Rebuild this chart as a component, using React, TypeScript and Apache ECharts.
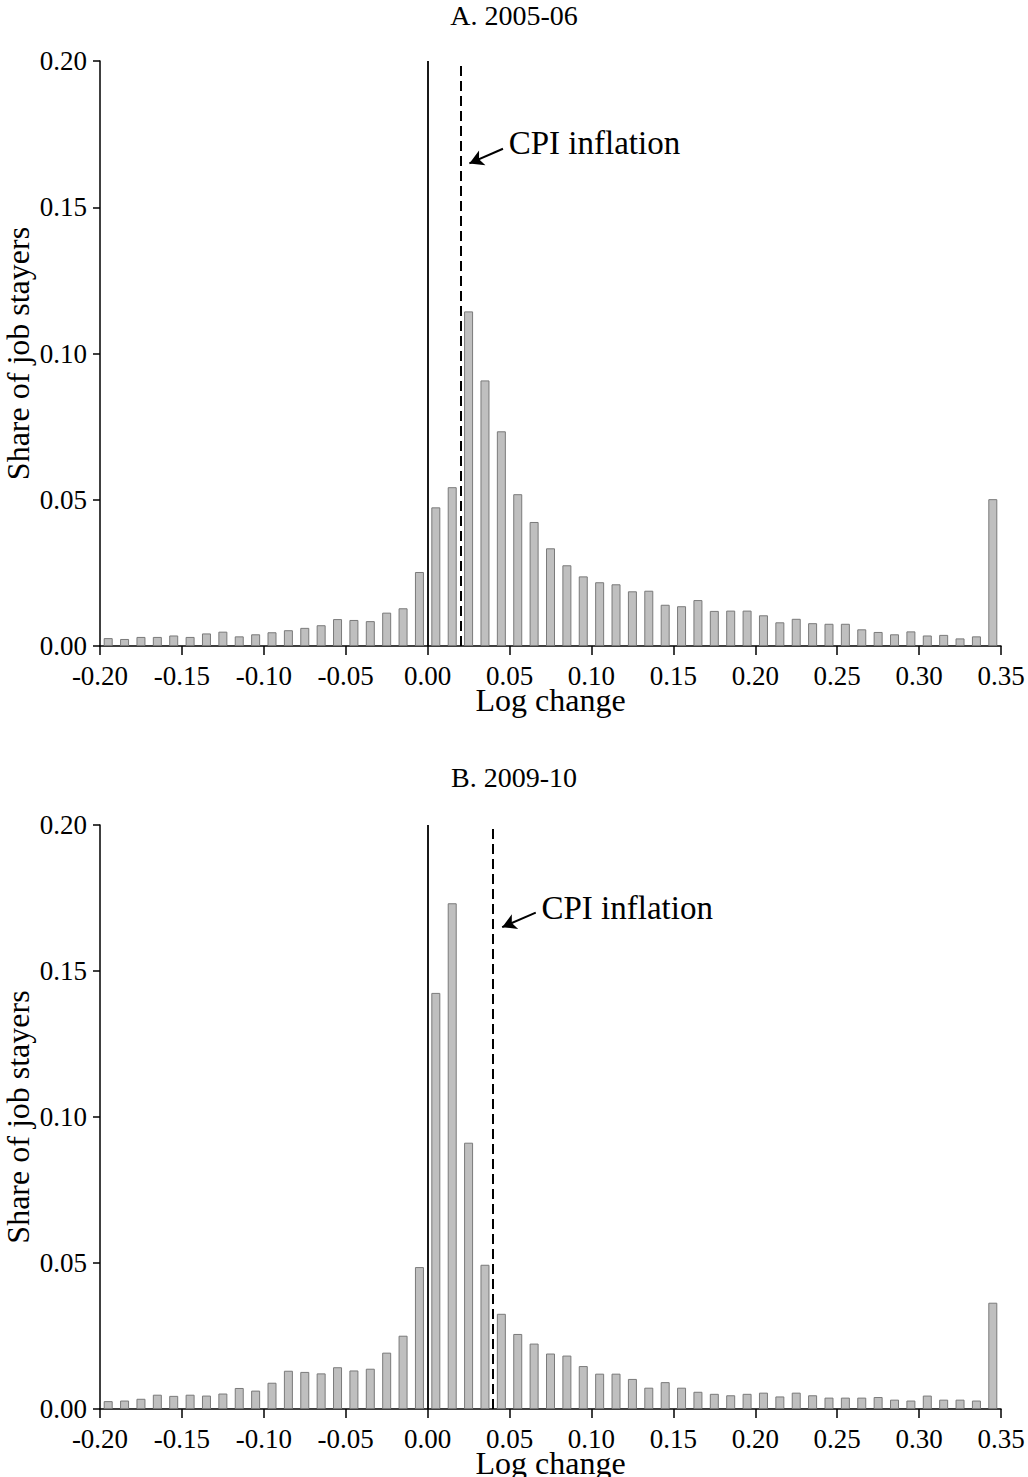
import React, { useEffect, useRef } from "react";
import * as echarts from "echarts";

// Bin centres (log change), 0.01-wide bins
const binCenters = [
  -0.195, -0.185, -0.175, -0.165, -0.155, -0.145, -0.135, -0.125, -0.115, -0.105,
  -0.095, -0.085, -0.075, -0.065, -0.055, -0.045, -0.035, -0.025, -0.015, -0.005,
  0.005, 0.015, 0.025, 0.035, 0.045, 0.055, 0.065, 0.075, 0.085, 0.095,
  0.105, 0.115, 0.125, 0.135, 0.145, 0.155, 0.165, 0.175, 0.185, 0.195,
  0.205, 0.215, 0.225, 0.235, 0.245, 0.255, 0.265, 0.275, 0.285, 0.295,
  0.305, 0.315, 0.325, 0.335, 0.345,
];

// Panel A: 2005-06 share of job stayers
const shareA = [
  0.0027, 0.0024, 0.0031, 0.0031, 0.0036, 0.0031, 0.0043, 0.0049, 0.0033, 0.004,
  0.0047, 0.0054, 0.0062, 0.0071, 0.0092, 0.0089, 0.0085, 0.0114, 0.0129, 0.0253,
  0.0474, 0.0543, 0.1144, 0.0908, 0.0734, 0.0519, 0.0424, 0.0334, 0.0276, 0.0238,
  0.0218, 0.0211, 0.0187, 0.0189, 0.0141, 0.0136, 0.0157, 0.012, 0.0121, 0.0121,
  0.0105, 0.0081, 0.0093, 0.0078, 0.0076, 0.0076, 0.0057, 0.0048, 0.004, 0.005,
  0.0036, 0.0038, 0.0026, 0.0033, 0.0502,
];

// Panel B: 2009-10 share of job stayers
const shareB = [
  0.0027, 0.0029, 0.0035, 0.0049, 0.0045, 0.0049, 0.0046, 0.0053, 0.0072, 0.0063,
  0.009, 0.0131, 0.0127, 0.0122, 0.0143, 0.0132, 0.0138, 0.0193, 0.0251, 0.0486,
  0.1425, 0.1732, 0.0912, 0.0494, 0.0326, 0.0257, 0.0224, 0.019, 0.0183, 0.0147,
  0.0121, 0.0121, 0.0103, 0.0073, 0.0092, 0.0073, 0.0059, 0.0052, 0.0047, 0.0052,
  0.0056, 0.0043, 0.0056, 0.0047, 0.0039, 0.0039, 0.0039, 0.0041, 0.0032, 0.0029,
  0.0046, 0.0032, 0.0032, 0.0029, 0.0364,
];

const panelTitles = ["A. 2005-06", "B. 2009-10"];
const cpiInflation = [0.02, 0.04];
const annotationText = "CPI inflation";
// arrow tail / tip and text anchor, in data coordinates
const arrowTail = [
  [0.046, 0.17],
  [0.066, 0.17],
];
const arrowTip = [
  [0.0255, 0.165],
  [0.0455, 0.165],
];
const textAnchor = [
  [0.0495, 0.172],
  [0.0695, 0.1715],
];

const xMin = -0.2;
const xMax = 0.35;
const xStep = 0.05;
const yMin = 0;
const yMax = 0.2;
const yStep = 0.05;

const FONT = "'Liberation Serif', 'Times New Roman', serif";

export default function App() {
  const ref = useRef<HTMLDivElement>(null);

  useEffect(() => {
    if (!ref.current) return;
    const chart = echarts.init(ref.current, undefined, { renderer: "svg" });

    const grids = [
      { left: 100, right: 27, top: 61, height: 585, outerBoundsMode: "none", containLabel: false },
      { left: 100, right: 27, top: 825, height: 584, outerBoundsMode: "none", containLabel: false },
    ];
    const titleTops = [-4, 758];

    const axisLineStyle = { color: "#000", width: 1.5 };

    const xAxes = grids.map((_, i) => ({
      type: "value",
      gridIndex: i,
      min: xMin,
      max: xMax,
      interval: xStep,
      splitLine: { show: false },
      axisLine: { show: true, onZero: false, lineStyle: axisLineStyle },
      axisTick: { show: true, length: 9, lineStyle: axisLineStyle },
      axisLabel: {
        show: true,
        margin: 16,
        fontSize: 27,
        fontFamily: FONT,
        color: "#000",
        showMinLabel: true,
        showMaxLabel: true,
        formatter: (v: number) => v.toFixed(2),
      },
      name: "Log change",
      nameLocation: "middle",
      nameGap: 38,
      nameMoveOverlap: false,
      nameTextStyle: { fontSize: 32, fontFamily: FONT, color: "#000" },
    }));

    const yAxes = grids.map((_, i) => ({
      type: "value",
      gridIndex: i,
      min: yMin,
      max: yMax,
      interval: yStep,
      splitLine: { show: false },
      axisLine: { show: true, onZero: false, lineStyle: axisLineStyle },
      axisTick: { show: true, length: 7, lineStyle: axisLineStyle },
      axisLabel: {
        margin: 13,
        fontSize: 27,
        fontFamily: FONT,
        color: "#000",
        formatter: (v: number) => v.toFixed(2),
      },
      name: "Share of job stayers",
      nameLocation: "middle",
      nameGap: 66,
      nameRotate: 90,
      nameMoveOverlap: false,
      nameTextStyle: { fontSize: 32, fontFamily: FONT, color: "#000" },
    }));

    const shares = [shareA, shareB];

    const series = shares.map((vals, i) => ({
      type: "bar",
      xAxisIndex: i,
      yAxisIndex: i,
      barWidth: 9,
      data: binCenters.map((b, k) => [b, vals[k]]),
      itemStyle: { color: "#bfbfbf", borderColor: "#7a7a7a", borderWidth: 1 },
      markLine: {
        silent: true,
        animation: false,
        symbol: ["none", "none"],
        label: { show: false },
        data: [
          { xAxis: 0, lineStyle: { type: "solid", color: "#000", width: 1.8 } },
          {
            xAxis: cpiInflation[i],
            lineStyle: { type: [10, 5], color: "#000", width: 2 },
          },
          [
            {
              coord: arrowTail[i],
              symbol: "none",
              lineStyle: { type: "solid", color: "#000", width: 2 },
            },
            { coord: arrowTip[i], symbol: "arrow", symbolSize: [12, 14] },
          ],
        ],
      },
      markPoint: {
        silent: true,
        animation: false,
        data: [
          {
            coord: textAnchor[i],
            symbol: "circle",
            symbolSize: 0,
            itemStyle: { color: "transparent" },
            label: {
              show: true,
              position: "right",
              distance: 0,
              formatter: annotationText,
              fontSize: 33,
              fontFamily: FONT,
              color: "#000",
            },
          },
        ],
      },
    }));

    chart.setOption({
      animation: false,
      backgroundColor: "#fff",
      title: panelTitles.map((t, i) => ({
        text: t,
        left: "center",
        top: titleTops[i],
        textStyle: {
          fontSize: 28,
          fontWeight: "normal",
          fontFamily: FONT,
          color: "#000",
        },
      })),
      grid: grids,
      xAxis: xAxes,
      yAxis: yAxes,
      series,
    });

    return () => chart.dispose();
  }, []);

  return (
    <div
      ref={ref}
      style={{ position: "absolute", left: 0, top: 0, width: 1028, height: 1477 }}
    />
  );
}
